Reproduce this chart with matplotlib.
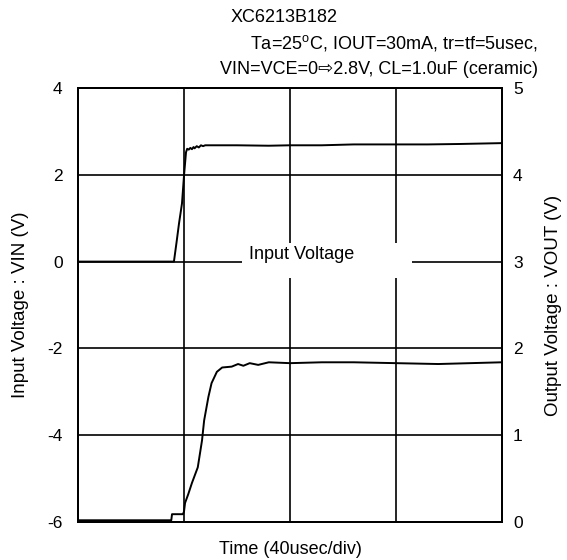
import matplotlib
matplotlib.use("Agg")
import matplotlib.pyplot as plt
from matplotlib.patches import Rectangle

plt.rcParams['font.family'] = ['Liberation Sans', 'DejaVu Sans']
plt.rcParams['mathtext.fontset'] = 'custom'
plt.rcParams['mathtext.rm'] = 'Liberation Sans'
plt.rcParams['axes.unicode_minus'] = False

# Input voltage trace (left axis, V) vs time (div)
vin_t = [0, 0.905, 0.93, 0.953, 0.981, 1.0, 1.019, 1.03, 1.045, 1.06, 1.075, 1.09, 1.10,
         1.12, 1.14, 1.16, 1.18, 1.2, 1.3, 1.5, 1.8, 2.0, 2.3, 2.6, 3.0, 3.3, 3.6, 4.0]
vin_v = [0, 0, 0.45, 0.88, 1.34, 1.98, 2.52, 2.60, 2.58, 2.62, 2.59, 2.64, 2.61,
         2.66, 2.63, 2.68, 2.66, 2.68, 2.68, 2.68, 2.67, 2.68, 2.68, 2.70, 2.70, 2.70, 2.71, 2.73]

# Output voltage trace (right axis, V) vs time (div)
vout_t = [0, 0.88, 0.887, 0.99, 1.0, 1.01, 1.04, 1.075, 1.13, 1.17, 1.19, 1.23, 1.26,
          1.31, 1.36, 1.45, 1.51, 1.56, 1.62, 1.7, 1.8, 2.0, 2.3, 2.6, 3.0, 3.4, 3.7, 4.0]
vout_v = [0.02, 0.02, 0.09, 0.09, 0.12, 0.22, 0.32, 0.45, 0.63, 0.94, 1.17, 1.44, 1.60,
          1.73, 1.78, 1.79, 1.82, 1.80, 1.83, 1.81, 1.84, 1.83, 1.84, 1.84, 1.83, 1.82, 1.83, 1.84]

left_ticks = [-6, -4, -2, 0, 2, 4]
right_ticks = [0, 1, 2, 3, 4, 5]
x_grid = [1, 2, 3]

title1 = "XC6213B182"
title2 = "Ta=25$^{\\mathregular{o}}$C, IOUT=30mA, tr=tf=5usec,"
title3 = "VIN=VCE=0\u21e82.8V, CL=1.0uF (ceramic)"

W, H = 567, 560
fig = plt.figure(figsize=(W / 100, H / 100), dpi=100)
ax = fig.add_axes([78 / W, 1 - 522 / H, (502 - 78) / W, (522 - 88) / H])
ax2 = ax.twinx()

ax.set_xlim(0, 4)
ax.set_ylim(-6, 4)
ax2.set_ylim(0, 5)
ax.set_xticks(x_grid)
ax.set_xticklabels([])
ax.set_yticks(left_ticks)
ax2.set_yticks(right_ticks)
ax.tick_params(axis='both', length=0, labelsize=12.5, pad=11)
ax2.tick_params(axis='y', length=0, labelsize=12.5, pad=8)
ax.grid(True, color='black', linewidth=1.2)
ax.set_axisbelow(True)
for a in (ax, ax2):
    for s in a.spines.values():
        s.set_linewidth(1.4)
        s.set_color('black')

ax.plot(vin_t, vin_v, color='black', linewidth=1.4, zorder=3)
ax2.plot(vout_t, vout_v, color='black', linewidth=1.4, zorder=3)

# white mask behind the "Input Voltage" label
ax.add_patch(Rectangle((164 / 424, 244 / 434), 170 / 424, 35 / 434,
                       transform=ax.transAxes, facecolor='white', edgecolor='none',
                       zorder=2))
ax.text(2.11, 0.05, "Input Voltage", ha='center', va='baseline', fontsize=13, zorder=4)

ax.set_ylabel("Input Voltage : VIN (V)", fontsize=13.5)
ax2.set_ylabel("Output Voltage : VOUT (V)", fontsize=13.5)
ax.set_xlabel("Time (40usec/div)", fontsize=13)
ax.yaxis.label.set_verticalalignment('center')
ax2.yaxis.label.set_verticalalignment('center')
ax.xaxis.label.set_verticalalignment('center')
ax.yaxis.set_label_coords(-57 / 424, 0.5)
ax2.yaxis.set_label_coords(475 / 424, 0.5)
ax.xaxis.set_label_coords(0.5, -27 / 434)

fig.text(284 / W, 1 - 18 / H, title1, ha='center', va='center', fontsize=13)
fig.text(538 / W, 1 - 43 / H, title2, ha='right', va='center', fontsize=13)
fig.text(538 / W, 1 - 70 / H, title3, ha='right', va='center', fontsize=13)

fig.savefig("out.png", dpi=100)
